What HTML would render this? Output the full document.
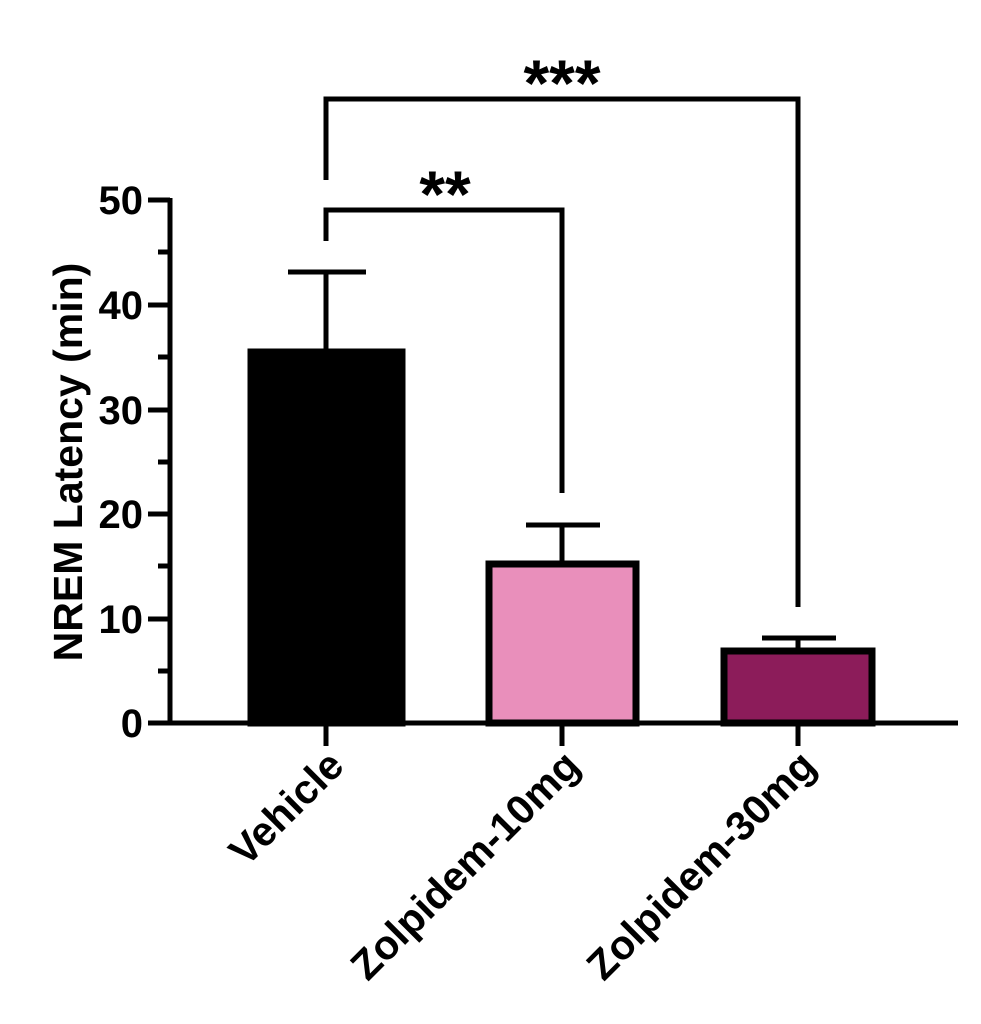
<!DOCTYPE html>
<html><head><style>body{margin:0;background:#fff}svg{display:block}</style></head><body>
<svg width="981" height="1024" xmlns="http://www.w3.org/2000/svg" font-family="Liberation Sans, sans-serif" font-weight="bold">
<rect width="981" height="1024" fill="#fff"/>
<g stroke="#000" stroke-width="5" fill="none">
<line x1="326" y1="350" x2="326" y2="272"/><line x1="288" y1="272" x2="366" y2="272"/>
<line x1="562" y1="562" x2="562" y2="525"/><line x1="526" y1="525" x2="600" y2="525"/>
<line x1="798" y1="648" x2="798" y2="638"/><line x1="762" y1="638" x2="836" y2="638"/>
</g>
<rect x="251" y="352" width="151" height="371" fill="#000" stroke="#000" stroke-width="7"/>
<rect x="489" y="564" width="147" height="159" fill="#e98fbb" stroke="#000" stroke-width="7"/>
<rect x="724" y="651" width="148" height="72" fill="#8c1c5a" stroke="#000" stroke-width="7"/>
<g stroke="#000" stroke-width="5" fill="none">
<line x1="170" y1="198" x2="170" y2="725"/>
<line x1="168" y1="723" x2="958" y2="723"/>
<line x1="148" y1="200" x2="170" y2="200"/><line x1="148" y1="305" x2="170" y2="305"/>
<line x1="148" y1="410" x2="170" y2="410"/><line x1="148" y1="514" x2="170" y2="514"/>
<line x1="148" y1="619" x2="170" y2="619"/><line x1="148" y1="723" x2="170" y2="723"/>
<line x1="158" y1="252" x2="170" y2="252"/><line x1="158" y1="357" x2="170" y2="357"/>
<line x1="158" y1="462" x2="170" y2="462"/><line x1="158" y1="566" x2="170" y2="566"/>
<line x1="158" y1="671" x2="170" y2="671"/>
<line x1="326" y1="723" x2="326" y2="746"/><line x1="562" y1="723" x2="562" y2="746"/><line x1="798" y1="723" x2="798" y2="746"/>
<polyline points="326,241 326,210 562,210 562,493"/>
<polyline points="326,180 326,99 798,99 798,607"/>
</g>
<g font-size="40" text-anchor="end">
<text x="143" y="214">50</text><text x="143" y="319">40</text><text x="143" y="424">30</text>
<text x="143" y="528">20</text><text x="143" y="633">10</text><text x="143" y="737">0</text>
</g>
<text transform="translate(82,462) rotate(-90)" font-size="41" text-anchor="middle">NREM Latency (min)</text>
<g font-size="41" text-anchor="end">
<text transform="translate(346,768) rotate(-45)">Vehicle</text>
<text transform="translate(582,768) rotate(-45)">Zolpidem-10mg</text>
<text transform="translate(818,768) rotate(-45)">Zolpidem-30mg</text>
</g>
<text x="445" y="217" font-size="66" text-anchor="middle">**</text>
<text x="562" y="106" font-size="66" text-anchor="middle">***</text>
</svg>
</body></html>
